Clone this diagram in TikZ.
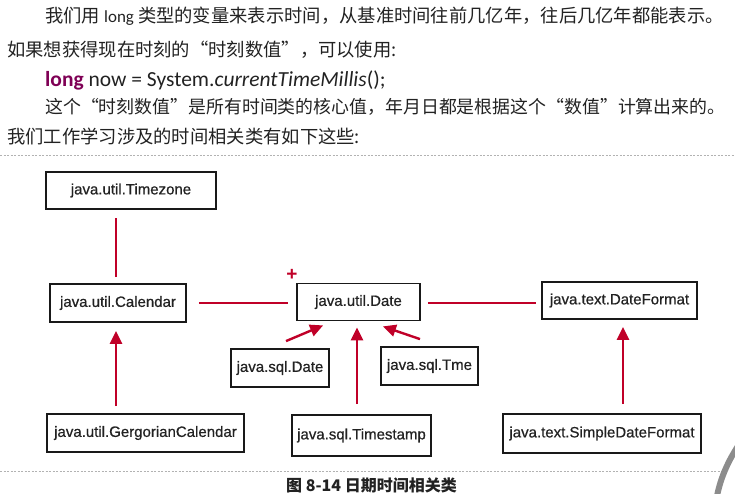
\documentclass[tikz,border=0pt]{standalone}
\usepackage{fontspec}
\setmainfont{Liberation Sans}
\newfontfamily\cjk{Noto Sans CJK SC}
\newfontfamily\calib{Carlito}
\newfontfamily\boxfont[FakeBold=0.6]{Liberation Sans}
\usetikzlibrary{arrows.meta,calc}
\definecolor{conred}{RGB}{192,0,40}
\definecolor{kw}{RGB}{127,0,85}
\definecolor{txt}{RGB}{34,34,34}
\begin{document}
\begin{tikzpicture}[x=1pt,y=-1pt,
  cls/.style={draw=black!90,line width=1.8pt,fill=white,inner sep=0pt,font=\boxfont\fontsize{15}{18}\selectfont,text=txt},
  conn/.style={draw=conred,line width=2.4pt},
  arr/.style={conn,-{Triangle[length=13pt,width=12pt]}},
  para/.style={anchor=base west,inner sep=0pt,text=txt,font=\cjk\fontsize{18.3}{22}\selectfont},
  sep/.style={draw=black!30,line width=0.9pt,dash pattern=on 2pt off 1.5pt}]
\useasboundingbox (0,0) rectangle (735,493);

% paragraph text
\node[para] (l1) at (45,22.5) {我们用 {\calib\fontsize{17}{20}\selectfont long} 类型的变量来表示时间，从基准时间往前几亿年，往后几亿年都能表示。};
\node[para] (l2) at (7,56) {如果想获得现在时刻的“时刻数值”，可以使用:};
\node[para,font=\calib\fontsize{21.5}{24}\selectfont] (l3) at (45,86) {\textcolor{kw}{\bfseries long} now = System.\textit{currentTimeMillis}();};
\node[para,font=\cjk\fontsize{17.9}{22}\selectfont] (l4) at (45,113) {这个“时刻数值”是所有时间类的核心值，年月日都是根据这个“数值”计算出来的。};
\node[para] (l5) at (7,143) {我们工作学习涉及的时间相关类有如下这些:};

\draw[sep] (0,155) -- (735,155);
\draw[sep] (0,471) -- (722,471);

% class boxes
\node[cls,minimum width=170pt,minimum height=37pt] (tz) at (131,190.5) {java.util.Timezone};
\node[cls,minimum width=136pt,minimum height=38pt] (cal) at (118,303) {java.util.Calendar};
\node[cls,minimum width=123pt,minimum height=37pt] (date) at (358.5,302) {java.util.Date};
\node[cls,minimum width=155pt,minimum height=37pt] (df) at (619.5,300.5) {java.text.DateFormat};
\node[cls,minimum width=98pt,minimum height=38pt] (sqld) at (280,368) {java.sql.Date};
\node[cls,minimum width=97pt,minimum height=38pt] (sqlt) at (429.5,366) {java.sql.Tme};
\node[cls,minimum width=139pt,minimum height=41pt] (ts) at (361.5,435.5) {java.sql.Timestamp};
\node[cls,minimum width=197pt,minimum height=38pt] (greg) at (145.5,433) {java.util.GergorianCalendar};
\node[cls,minimum width=198pt,minimum height=39pt] (sdf) at (602,433.5) {java.text.SimpleDateFormat};

\node[text=conred,font=\fontsize{19}{19}\selectfont\bfseries,inner sep=0pt] (plus) at (292,275) {+};

% connectors
\draw[conn] ($(cal.north)+(-2,-6)$) -- ($(tz.south)+(-15,8)$);
\draw[conn] ($(cal.east)+(12,0)$) -- ($(cal.east -| date.west)+(-8,0)$);
\draw[conn] ($(cal.east -| date.east)+(7,0)$) -- ($(cal.east -| df.west)+(-5,0)$);
\draw[arr] ($(greg.north)+(-29.5,-7)$) -- ($(cal.south)+(-2,8)$);
\draw[arr] ($(sqld.north)+(6,-7)$) -- ($(date.south west)+(27,4)$);
\draw[arr] ($(sqlt.north)+(-9.5,-7)$) -- ($(date.south east)+(-38,5)$);
\draw[arr] ($(ts.north)+(-4.5,-10)$) -- ($(date.south)+(-1.5,6)$);
\draw[arr] ($(sdf.north)+(21,-9)$) -- ($(df.south)+(3.5,7)$);

\node[anchor=base,inner sep=0pt,font=\cjk\bfseries\fontsize{16}{18}\selectfont,text=txt] (cap) at (371.5,491) {图 8-14 日期时间相关类};

% page-curl shadow at the lower right
\draw[line width=6pt,black!45,line cap=round] (738,446) .. controls (729,460) and (721,476) .. (717,496);
\end{tikzpicture}
\end{document}
